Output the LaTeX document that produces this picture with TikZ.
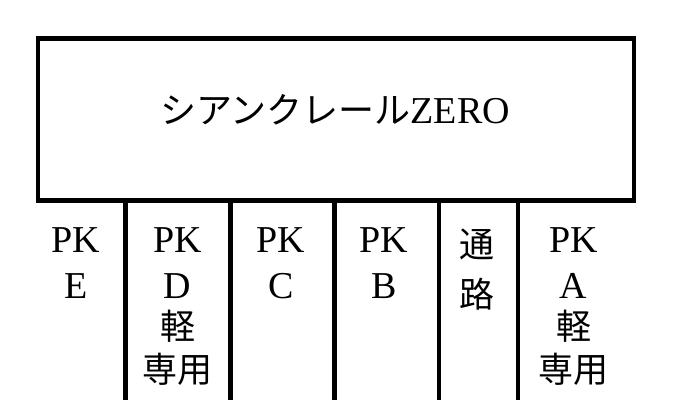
\documentclass[tikz,border=0pt]{standalone}
\usepackage{fontspec}
\setmainfont{Liberation Serif}
\newfontfamily\cjk{Noto Sans CJK JP}
\tikzset{
  frame/.style={draw=black, line width=4.5pt, line cap=butt},
  lat/.style={inner sep=0pt, anchor=center, font=\fontsize{38}{46}\selectfont},
  jp/.style={inner sep=0pt, anchor=center, font=\cjk\fontsize{35}{44}\selectfont},
}
\begin{document}
\begin{tikzpicture}[x=1pt, y=-1pt]
\useasboundingbox[fill=white] (0,0) rectangle (685,415);
% main box
\node[frame, minimum width=596pt, minimum height=161.8pt, outer sep=0pt, inner sep=0pt] (box) at (336,119.6) {};
\node[inner sep=0pt] (title) at (335,110) {{\cjk\fontsize{36}{44}\selectfont シアンクレール}{\fontsize{38}{46}\selectfont ZERO}};
% column dividers
\foreach \n/\x in {d1/125.5, d2/230.5, d3/334.5, d4/439, d5/518} {
  \coordinate (\n t) at (\x,200.5);
  \coordinate (\n b) at (\x,400);
  \draw[frame] (\n t) -- (\n b);
}
% column E
\node[lat] (e1) at (76,240) {PK};
\node[lat] (e2) at (76,286) {E};
% column D
\node[lat] (dd1) at (177.5,240) {PK};
\node[lat] (dd2) at (177.5,286) {D};
\node[jp] (dd3) at (177.5,326.5) {軽};
\node[jp] (dd4) at (177.5,369) {専用};
% column C
\node[lat] (c1) at (281,240) {PK};
\node[lat] (c2) at (281,286) {C};
% column B
\node[lat] (b1) at (384,240) {PK};
\node[lat] (b2) at (384,286) {B};
% passage
\node[jp] (p1) at (477,244.5) {通};
\node[jp] (p2) at (477,294.5) {路};
% column A
\node[lat] (a1) at (573.5,240) {PK};
\node[lat] (a2) at (573.5,286) {A};
\node[jp] (a3) at (573.5,326.5) {軽};
\node[jp] (a4) at (573.5,369) {専用};
\end{tikzpicture}
\end{document}
